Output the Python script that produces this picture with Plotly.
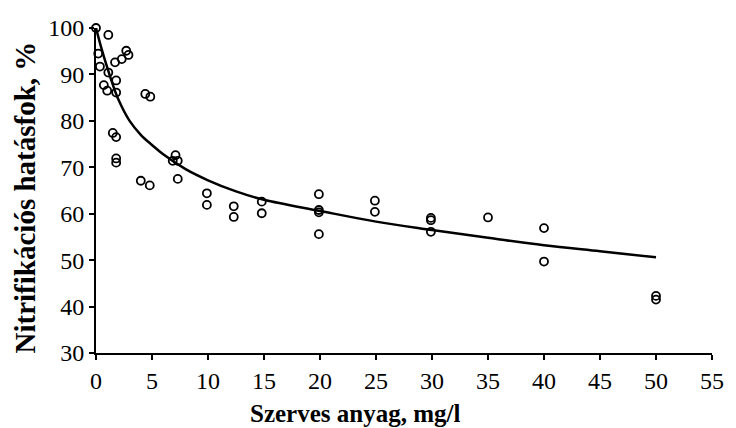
import plotly.graph_objects as go

# Measured points (organic matter mg/l vs nitrification efficiency %)
x_pts = [0, 1.1, 0.2, 0.35, 1.1, 0.7, 1.0, 1.8, 1.8, 1.7, 2.3, 2.7, 2.9, 4.4, 4.85,
         1.5, 1.8, 1.8, 1.8, 4.0, 4.8, 7.1, 6.85, 7.3, 7.3, 9.9, 9.9, 12.3, 12.3,
         14.8, 14.8, 19.9, 19.9, 19.9, 19.9, 24.9, 24.9, 29.9, 29.9, 29.9, 35.0,
         40.0, 40.0, 50.0, 50.0]
y_pts = [100, 98.5, 94.5, 91.7, 90.4, 87.7, 86.5, 88.7, 86.1, 92.6, 93.3, 95.1, 94.2, 85.8, 85.2,
         77.4, 76.5, 71.9, 71.0, 67.1, 66.1, 72.6, 71.4, 71.4, 67.5, 64.4, 61.9, 61.6, 59.3,
         62.6, 60.1, 64.2, 60.8, 60.3, 55.6, 62.8, 60.4, 59.1, 58.6, 56.1, 59.2,
         56.9, 49.7, 42.3, 41.5]

# Trend curve
x_fit = [0, 0.5, 1, 1.5, 2, 3, 4, 5, 6, 8, 10, 12.5, 15, 20, 25, 30, 35, 40, 45, 50]
y_fit = [100, 95.5, 91.5, 87.8, 84.6, 80.0, 77.0, 74.8, 72.8, 69.6, 67.2, 64.8, 63.0, 60.6,
         58.3, 56.5, 54.8, 53.2, 51.9, 50.6]

x_ticks = [0, 5, 10, 15, 20, 25, 30, 35, 40, 45, 50, 55]
y_ticks = [30, 40, 50, 60, 70, 80, 90, 100]

FONT = "Liberation Serif"

fig = go.Figure()
fig.add_trace(go.Scatter(x=x_fit, y=y_fit, mode="lines",
                         line=dict(color="black", width=2.5, shape="spline", smoothing=1.0),
                         hoverinfo="skip", showlegend=False, cliponaxis=False))
fig.add_trace(go.Scatter(x=x_pts, y=y_pts, mode="markers",
                         marker=dict(symbol="circle-open", size=8, color="black", line=dict(width=1.8)),
                         showlegend=False, cliponaxis=False))

axis_common = dict(showline=True, linecolor="black", linewidth=2, ticks="outside", ticklen=5,
                   tickwidth=1.5, tickcolor="black", showgrid=False, zeroline=False,
                   tickfont=dict(family=FONT, size=24, color="black"))

fig.update_layout(
    width=736, height=428,
    margin=dict(l=96, r=20, t=28, b=75),
    plot_bgcolor="white", paper_bgcolor="white",
    xaxis=dict(range=[0, 55], tickvals=x_ticks, **axis_common),
    yaxis=dict(range=[30, 100], tickvals=y_ticks, **axis_common),
    annotations=[
        dict(text="<b>Szerves anyag, mg/l</b>", xref="paper", yref="paper", x=0.421, y=-0.185,
             xanchor="center", yanchor="middle", showarrow=False,
             font=dict(family=FONT, size=25, color="black")),
        dict(text="<b>Nitrifikációs hatásfok, %</b>", xref="paper", yref="paper", x=-0.1145, y=0.48,
             xanchor="center", yanchor="middle", showarrow=False, textangle=-90,
             font=dict(family=FONT, size=29, color="black")),
    ],
)

fig.write_html("out.html")
